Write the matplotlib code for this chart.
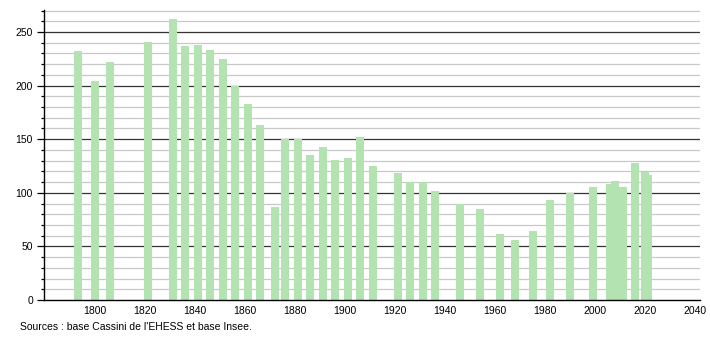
import numpy as np
import matplotlib
matplotlib.use('Agg')
import matplotlib.pyplot as plt

## data
years=[1793,1800,1806,1821,1831,1836,1841,1846,1851,1856,1861,1866,1872,1876,1881,
       1886,1891,1896,1901,1906,1911,1921,1926,1931,1936,1946,1954,1962,1968,1975,
       1982,1990,1999,2006,2008,2011,2016,2020,2021]
pop=[232,204,222,241,262,237,238,233,225,200,183,163,87,150,150,
     135,143,131,132,152,125,118,110,110,102,90,85,62,56,64,
     93,100,105,108,111,105,128,119,117]
xticks=list(range(1800,2041,20))
yticks=list(range(0,251,50))
source="Sources : base Cassini de l'EHESS et base Insee."

plt.rcParams['font.family']=['Liberation Sans','DejaVu Sans']

fig=plt.figure(figsize=(7.1,3.4),dpi=100)
ax=fig.add_axes([44/710,1-300/340,656/710,290/340])

##grid
for v in range(10,271,10):
    if v%50==0:
        ax.axhline(v,color='#333333',lw=0.9,zorder=1)
    else:
        ax.axhline(v,color='#c8c8c8',lw=0.9,zorder=1)

##bars
ax.bar(years,pop,width=3.2,color='#b3e3b1',zorder=2)

ax.set_xlim(1779.5,2042)
ax.set_ylim(0,270.5)
ax.set_xticks(xticks)
ax.set_xticklabels([str(t) for t in xticks],fontsize=7.5)
ax.set_yticks(yticks)
ax.set_yticklabels([str(t) for t in yticks],fontsize=7.5)
ax.set_yticks(range(0,271,10),minor=True)
ax.tick_params(axis='x',length=0,pad=4)
ax.tick_params(axis='y',which='major',length=5,width=0.9,pad=3)
ax.tick_params(axis='y',which='minor',length=2.5,width=0.9)

for s in ['top','right']:
    ax.spines[s].set_visible(False)
ax.spines['left'].set_linewidth(1)
ax.spines['bottom'].set_linewidth(1)

fig.text(20/710,1-330/340,source,fontsize=7.5)

plt.savefig('out.png',dpi=100)
